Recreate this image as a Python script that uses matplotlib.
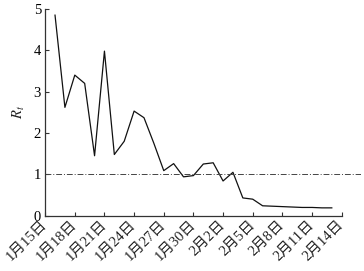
import matplotlib
matplotlib.use("Agg")
import matplotlib.pyplot as plt

plt.rcParams['font.family'] = ['Liberation Serif', 'Noto Sans CJK SC']
plt.rcParams['mathtext.fontset'] = 'stix'

# daily R_t values, 1/16 .. 2/13 (day index 1..29, day 0 = 1/15)
days = list(range(1, 30))
rt = [4.85, 2.62, 3.40, 3.20, 1.45, 3.98, 1.48, 1.80, 2.53, 2.37,
      1.75, 1.09, 1.26, 0.94, 0.97, 1.25, 1.28, 0.84, 1.05, 0.43,
      0.40, 0.24, 0.23, 0.22, 0.21, 0.20, 0.20, 0.19, 0.19]

tick_days = [0, 3, 6, 9, 12, 15, 18, 21, 24, 27, 30]
tick_labels = ["1月15日", "1月18日", "1月21日", "1月24日", "1月27日", "1月30日",
               "2月2日", "2月5日", "2月8日", "2月11日", "2月14日"]
threshold = 1.0

fig = plt.figure(figsize=(3.64, 2.71), dpi=100)
ax = fig.add_axes([0.124, 0.204, 0.869, 0.763])

ax.plot(days, rt, color='#111111', lw=0.9)
ax.axhline(threshold, color='#444444', lw=0.7, ls=(0, (6, 2, 1, 2)))

ax.set_xlim(0, 32)
ax.set_ylim(0, 5)
ax.spines['top'].set_visible(False)
ax.spines['right'].set_visible(False)
ax.spines['bottom'].set_bounds(0, 30)
for s in ('left', 'bottom'):
    ax.spines[s].set_linewidth(0.9)
    ax.spines[s].set_color('#333333')

ax.set_xticks(tick_days)
ax.set_xticklabels(tick_labels, rotation=45, ha='right', va='center',
                   rotation_mode='anchor', fontsize=8.5, fontweight='light', color='#222222')
ax.set_yticks([0, 1, 2, 3, 4, 5])
ax.tick_params(direction='in', length=3, width=0.8, labelsize=10.5, pad=3, color='#333333')
ax.tick_params(axis='x', pad=5)
ax.set_ylabel(r'$R_t$', fontsize=10.5, labelpad=5, color='#222222')

fig.savefig("out.png", dpi=100)
